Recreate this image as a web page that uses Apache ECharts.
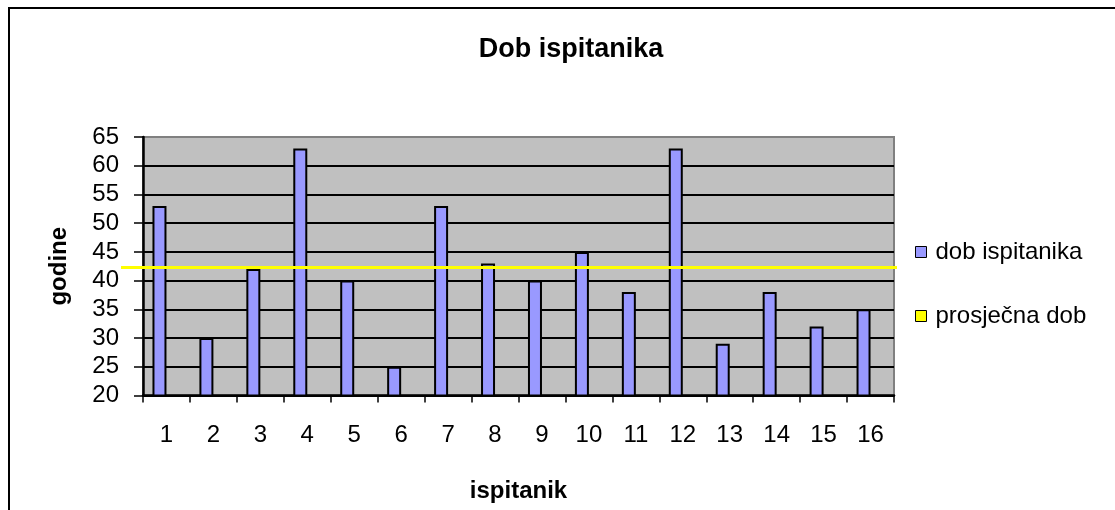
<!DOCTYPE html>
<html>
<head>
<meta charset="utf-8">
<script src="https://cdn.jsdelivr.net/npm/echarts@6/dist/echarts.min.js"></script>
<style>
html,body{margin:0;padding:0;background:#fff;}
#chart{width:1115px;height:510px;}
</style>
</head>
<body>
<div id="chart"></div>
<script>
var categories = ['1','2','3','4','5','6','7','8','9','10','11','12','13','14','15','16'];
var ages = [53, 30, 42, 63, 40, 25, 53, 43, 40, 45, 38, 63, 29, 38, 32, 35];
var avgAge = 42.3;
var yTicks = {min: 20, max: 65, interval: 5};

var FONT = '"Liberation Sans", Arial, sans-serif';
var chart = echarts.init(document.getElementById('chart'), null, {renderer: 'canvas'});
var option = {
  backgroundColor: '#ffffff',
  animation: false,
  graphic: [{
    type: 'rect', silent: true, z: -10,
    shape: {x: 9, y: 8, width: 1200, height: 600},
    style: {fill: 'none', stroke: '#000', lineWidth: 2}
  }],
  title: {
    text: 'Dob ispitanika',
    left: 566, top: 31, textAlign: 'center',
    textStyle: {fontFamily: FONT, fontSize: 27, fontWeight: 'bold', color: '#000'}
  },
  legend: {
    orient: 'vertical', left: 910, top: 235, itemGap: 40,
    itemWidth: 11, itemHeight: 11, icon: 'rect',
    textStyle: {fontFamily: FONT, fontSize: 24, color: '#000', padding: [0, 0, 0, 4]},
    data: [
      {name: 'dob ispitanika', itemStyle: {color: '#9999ff', borderColor: '#000', borderWidth: 1}},
      {name: 'prosječna dob', itemStyle: {color: '#ffff00', borderColor: '#000', borderWidth: 1}}
    ]
  },
  grid: {
    left: 143, top: 137, right: 221, bottom: 114.5,
    show: true, backgroundColor: '#c0c0c0', borderColor: '#808080', borderWidth: 2
  },
  xAxis: {
    type: 'category', data: categories,
    name: 'ispitanik', nameLocation: 'middle', nameGap: 84,
    nameTextStyle: {fontFamily: FONT, fontSize: 24, fontWeight: 'bold', color: '#000'},
    axisLine: {lineStyle: {color: '#000', width: 2.5}},
    axisTick: {show: true, length: 7, lineStyle: {color: '#000', width: 1.5}},
    axisLabel: {fontFamily: FONT, fontSize: 24, color: '#000', margin: 28},
    splitLine: {show: false}
  },
  yAxis: {
    type: 'value', min: yTicks.min, max: yTicks.max, interval: yTicks.interval,
    name: 'godine', nameLocation: 'middle', nameGap: 72, nameRotate: 90,
    nameTextStyle: {fontFamily: FONT, fontSize: 24, fontWeight: 'bold', color: '#000'},
    axisLine: {show: true, lineStyle: {color: '#000', width: 2.5}},
    axisTick: {show: true, length: 9, lineStyle: {color: '#000', width: 1.5}},
    axisLabel: {fontFamily: FONT, fontSize: 24, color: '#000', margin: 24},
    splitLine: {show: true, showMaxLine: false, lineStyle: {color: '#000', width: 2}}
  },
  series: [
    {
      name: 'dob ispitanika', type: 'bar', data: ages,
      barWidth: 14, barGap: '0%',
      itemStyle: {color: '#9999ff', borderColor: '#000', borderWidth: 2}
    },
    {
      name: 'prosječna dob', type: 'bar',
      data: ages.map(function(){ return null; }),
      barWidth: 14,
      itemStyle: {color: '#ffff00', borderColor: '#000', borderWidth: 1},
      markLine: {
        silent: true, symbol: 'none', animation: false,
        label: {show: false},
        lineStyle: {color: '#ffff00', width: 3, type: 'solid'},
        data: [[{x: 121, yAxis: avgAge}, {x: 897, yAxis: avgAge}]]
      }
    }
  ]
};
chart.setOption(option);
</script>
</body>
</html>
